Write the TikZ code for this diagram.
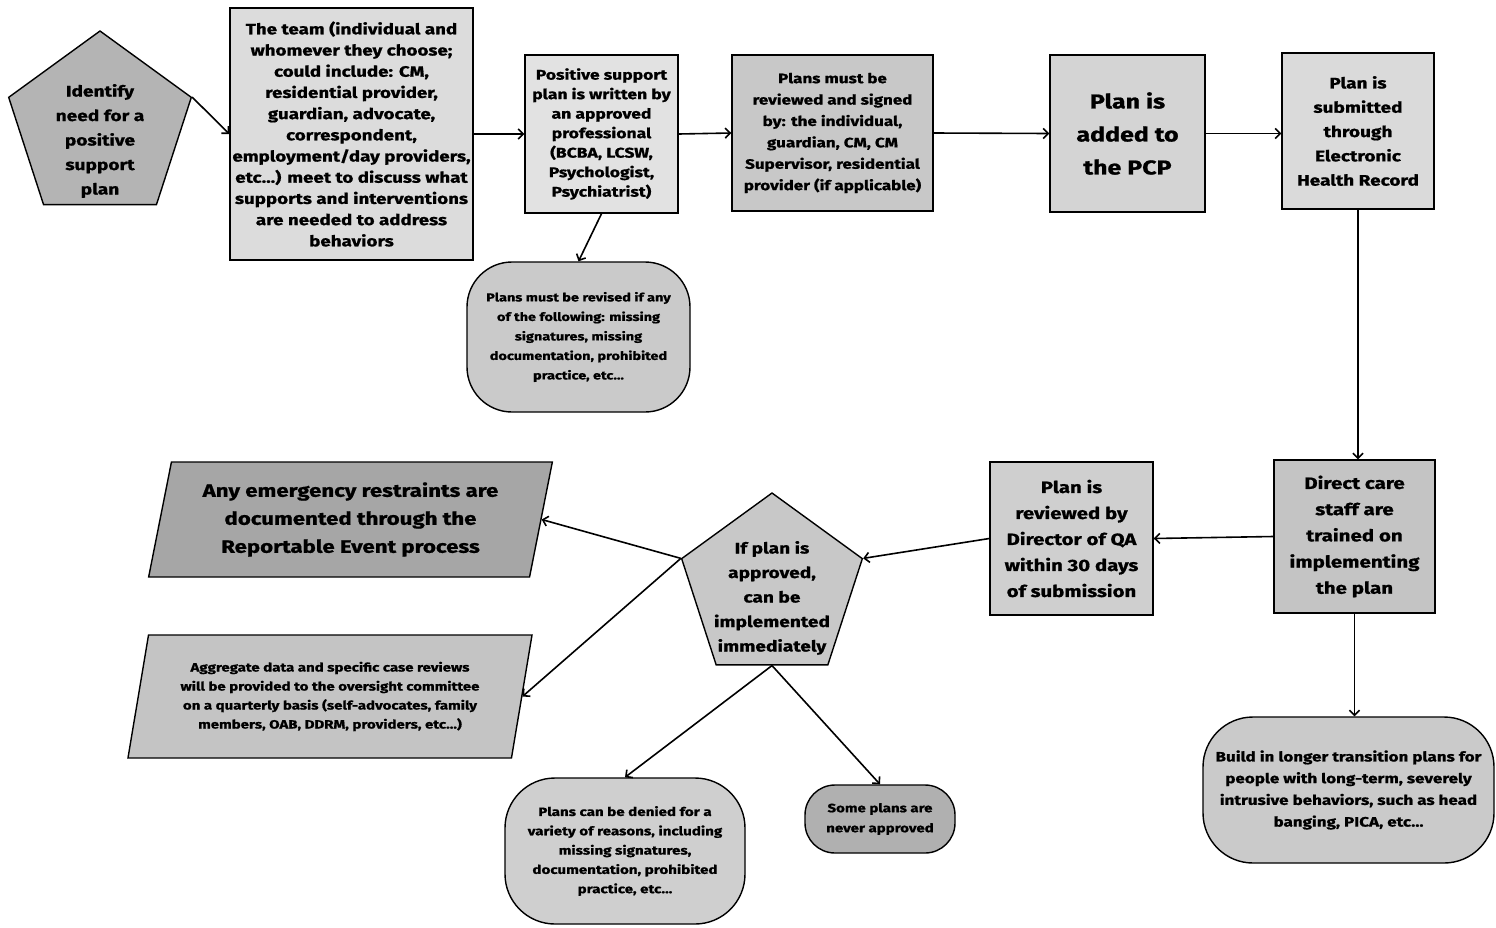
\documentclass[tikz,border=0pt]{standalone}
\usepackage{fontspec}
\setmainfont{Fira Sans}[FakeStretch=1.25, BoldFeatures={FakeBold=1}]
\usetikzlibrary{shapes.geometric,arrows.meta}
\definecolor{cA}{HTML}{B4B4B4}
\definecolor{cB}{HTML}{DCDCDC}
\definecolor{cC}{HTML}{E2E2E2}
\definecolor{cD}{HTML}{C8C8C8}
\definecolor{cE}{HTML}{D4D4D4}
\definecolor{cF}{HTML}{DADADA}
\definecolor{cG}{HTML}{CACACA}
\definecolor{cH}{HTML}{C4C4C4}
\definecolor{cI}{HTML}{CFCFCF}
\definecolor{cJ}{HTML}{A6A6A6}
\definecolor{cK}{HTML}{B0B0B0}
\tikzset{
  shp/.style={draw=black, line width=1.4pt, align=center, inner sep=0pt, font=\bfseries},
  rbox/.style={shp, rectangle},
  rnd/.style={shp, rectangle, rounded corners=#1},
  pent/.style={shp, regular polygon, regular polygon sides=5},
  para/.style={shp, trapezium, trapezium stretches=true},
  txt/.style={align=center, inner sep=0pt, font=\bfseries},
  arr/.style={-{Straight Barb[length=5pt,width=10pt]}, line width=1.6pt},
  fs/.style 2 args={font=\fontsize{#1}{#2}\selectfont\bfseries}
}
\begin{document}
\begin{tikzpicture}[x=1pt,y=-1pt]
\useasboundingbox (0,0) rectangle (1496,927);
% top row
\node[pent, fill=cA, minimum size=192pt] (p1) at (100,127) {};
\node[txt, fs={15.3}{24.5}] (p1t) at (100,141) {Identify\\need for a\\positive\\support\\plan};
\node[rbox, fill=cB, minimum width=243pt, minimum height=252pt, fs={15}{21.2}] (team) at (351.5,134) {The team (individual and\\whomever they choose;\\could include: CM,\\residential provider,\\guardian, advocate,\\correspondent,\\employment/day providers,\\etc...) meet to discuss what\\supports and interventions\\are needed to address\\behaviors};
\node[rbox, fill=cC, minimum width=153pt, minimum height=158pt, fs={14}{19.5}] (pos) at (601.5,134) {Positive support\\plan is written by\\an approved\\professional\\(BCBA, LCSW,\\Psychologist,\\Psychiatrist)};
\node[rbox, fill=cD, minimum width=201pt, minimum height=156pt, fs={13.6}{21.4}] (rev) at (832.5,133) {Plans must be\\reviewed and signed\\by: the individual,\\guardian, CM, CM\\Supervisor, residential\\provider (if applicable)};
\node[rbox, fill=cE, minimum width=155pt, minimum height=157pt, fs={20}{33}] (add) at (1127.5,133.5) {Plan is\\added to\\the PCP};
\node[rbox, fill=cF, minimum width=152pt, minimum height=156pt, fs={15.2}{24.3}] (sub) at (1358,131) {Plan is\\submitted\\through\\Electronic\\Health Record};
\node[rnd=45pt, fill=cG, minimum width=223pt, minimum height=150pt, fs={11.6}{19.5}] (rvs) at (578.5,337) {Plans must be revised if any\\of the following: missing\\signatures, missing\\documentation, prohibited\\practice, etc...};
% right column
\node[rbox, fill=cH, minimum width=161pt, minimum height=153pt, fs={16.4}{26.2}] (dc) at (1354.5,536.5) {Direct care\\staff are\\trained on\\implementing\\the plan};
\node[rnd=50pt, fill=cG, minimum width=291pt, minimum height=146pt, fs={13.6}{21.7}] (bld) at (1348.5,790) {Build in longer transition plans for\\people with long-term, severely\\intrusive behaviors, such as head\\banging, PICA, etc...};
\node[rbox, fill=cI, minimum width=163pt, minimum height=153pt, fs={16.3}{26}] (dir) at (1071.5,538.5) {Plan is\\reviewed by\\Director of QA\\within 30 days\\of submission};
% decision pentagon
\node[pent, fill=cD, minimum size=190pt] (p2) at (772,588) {};
\node[txt, fs={15.3}{24.5}] (p2t) at (772,598) {If plan is\\approved,\\can be\\implemented\\immediately};
% parallelograms
\node[para, fill=cJ, trapezium left angle=75.8, trapezium right angle=104.2, minimum width=405pt, minimum height=115pt, fs={17.8}{28}] (emr) at (350.5,519.5) {Any emergency restraints are\\documented through the\\Reportable Event process};
\node[para, fill=cH, trapezium left angle=76.3, trapezium right angle=103.7, minimum width=406pt, minimum height=123pt, fs={12}{19}] (agg) at (330,696.5) {Aggregate data and specific case reviews\\will be provided to the oversight committee\\on a quarterly basis (self-advocates, family\\members, OAB, DDRM, providers, etc...)};
% bottom
\node[rnd=50pt, fill=cI, minimum width=240pt, minimum height=146pt, fs={12.1}{19.3}] (den) at (625,851) {Plans can be denied for a\\variety of reasons, including\\missing signatures,\\documentation, prohibited\\practice, etc...};
\node[rnd=30pt, fill=cK, minimum width=150pt, minimum height=68pt, fs={12}{20}] (som) at (880,819) {Some plans are\\never approved};
% connectors
\draw[arr] (p1.corner 5) -- (team.west);
\draw[arr] (team.east) -- (pos.west);
\draw[arr] (pos.east) -- (rev.west);
\draw[arr] (rev.east) -- (add.west);
\draw[arr] (add.east) -- (add.east -| sub.west);
\draw[arr] (pos.south) -- (rvs.north);
\draw[arr] (sub.south) -- (sub.south |- dc.north);
\draw[arr] (dc.south) -- (dc.south |- bld.north);
\draw[arr] (dc.west) -- (dir.east);
\draw[arr] (dir.west) -- (p2.corner 5);
\draw[arr] (p2.corner 2) -- (emr.east);
\draw[arr] (p2.corner 2) -- (agg.east);
\draw[arr] (p2.side 3) -- (den.north);
\draw[arr] (p2.side 3) -- (som.north);
\end{tikzpicture}
\end{document}
